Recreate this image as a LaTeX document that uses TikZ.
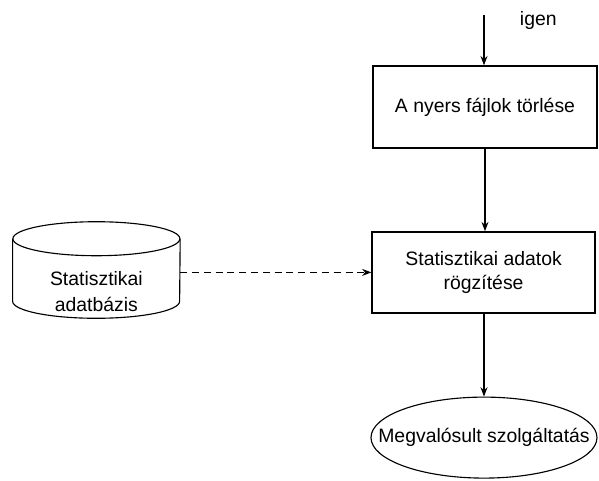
\documentclass[tikz,border=0pt]{standalone}
\usepackage{fontspec}
\setmainfont{Liberation Sans}
\usetikzlibrary{arrows.meta}
\usetikzlibrary{shapes.geometric}

\begin{document}
\begin{tikzpicture}
\tikzstyle{every node}=[font=\fontsize{13.8}{17}\selectfont]
\tikzstyle{process}=[draw, line width=1pt, align=center]
\useasboundingbox (0,0) rectangle (14.975,-12);
\node [process, minimum width=5.6cm, minimum height=2.05cm] (torles) at (12.125,-2.675) {A nyers fájlok törlése};
\node [process, minimum width=5.575cm, minimum height=2.025cm] (rogzites) at (12.09,-6.81) {Statisztikai adatok\\rögzítése};
\node [minimum width=4.175cm, minimum height=2.4cm,
  label={[align=center, font=\fontsize{13.8}{19}\selectfont, yshift=-0.54cm]center:Statisztikai\\adatbázis}] (adatbazis) at (2.41,-6.75) {};
% database drum
\draw [line width=0.8pt] ([yshift=-0.425cm]adatbazis.north) ellipse (2.0875 and 0.425);
\draw [line width=0.8pt] ([yshift=-0.425cm]adatbazis.north west) -- ([yshift=0.425cm]adatbazis.south west) arc (180:360:2.0875 and 0.425) -- ([yshift=-0.425cm]adatbazis.north east);
\node [draw, line width=0.8pt, ellipse, minimum width=5.65cm, minimum height=2.025cm, inner sep=0pt] (szolgaltatas) at (12.1,-10.94) {\makebox[0pt]{Megvalósult szolgáltatás}};
\coordinate (be) at (12.1,-0.375);
\node [anchor=base west] (igen) at (12.875,-0.625) {igen};
\draw [->, >=Stealth, line width=0.8pt] (be) -- (be |- torles.north);
\draw [->, >=Stealth, line width=0.8pt] (torles.south) -- (torles.south |- rogzites.north);
\draw [->, >=Stealth, line width=0.8pt, dash pattern=on 5pt off 3.4pt] (adatbazis.east |- rogzites.west) -- (rogzites.west);
\draw [->, >=Stealth, line width=0.8pt] (rogzites.south -| szolgaltatas.north) -- (szolgaltatas.north);
\end{tikzpicture}
\end{document}
